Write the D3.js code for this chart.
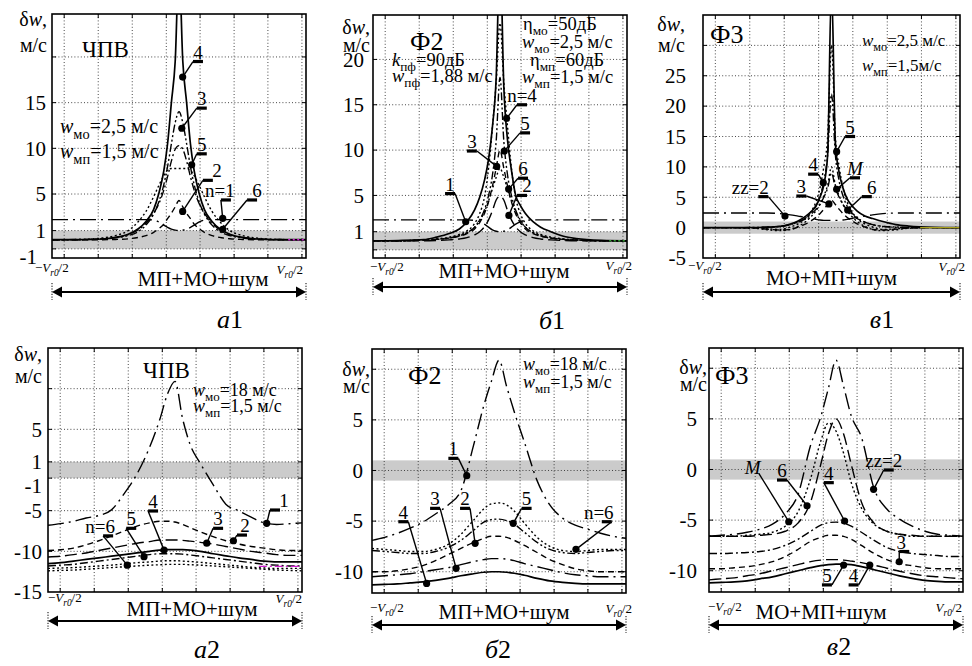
<!DOCTYPE html>
<html>
<head>
<meta charset="utf-8">
<script src="https://cdn.jsdelivr.net/npm/d3@7"></script>
<style>
body { margin: 0; background: #fff; }
svg text { font-family: "Liberation Serif", "DejaVu Serif", serif; fill: #000; }
</style>
</head>
<body>
<div id="app"></div>
<script>
// x in units of Vr0 (-1/2 .. 1/2)
var xsTop = [-0.5,-0.4,-0.3,-0.25,-0.2,-0.16,-0.13,-0.1,-0.08,-0.06,-0.045,-0.03,-0.015,0,0.015,0.03,0.045,0.06,0.08,0.1,0.13,0.16,0.2,0.25,0.3,0.4,0.5];
var xsBot = [-0.5,-0.45,-0.4,-0.35,-0.3,-0.25,-0.2,-0.15,-0.1,-0.06,-0.03,0,0.03,0.06,0.1,0.15,0.2,0.25,0.3,0.35,0.4,0.45,0.5];
var gridX = [-0.452,-0.318,-0.184,-0.05,0.083,0.217,0.35,0.484];
var tailXs = [0.43, 0.5];

// а1  (ЧПВ, wмо = 2,5 м/с)
var a1N1 = [2.2,2.2,2.2,2.2,2.2,2.2,2.2,2.15,1.95,1.6,1.35,1.15,1.05,1.0,1.05,1.15,1.35,1.6,1.95,2.15,2.2,2.2,2.2,2.2,2.2,2.2,2.2];
var a1N2 = [0,0,0,0.03,0.1,0.25,0.45,0.8,1.2,1.7,2.3,2.9,3.6,4.3,3.6,2.9,2.3,1.7,1.2,0.8,0.45,0.25,0.1,0.03,0,0,0];
var a1N3 = [0,0,0.08,0.2,0.45,0.9,1.6,2.8,4.1,6.0,8.0,10.5,12.8,14,12.8,10.5,8.0,6.0,4.1,2.8,1.6,0.9,0.45,0.2,0.08,0,0];
var a1N4 = [0,0,0.08,0.25,0.6,1.2,2.0,3.3,5.0,7.5,10.5,15,19.5,30,19.5,15,10.5,7.5,5.0,3.3,2.0,1.2,0.6,0.25,0.08,0,0];
var a1N5 = [0,0.02,0.2,0.45,1.0,2.0,3.1,4.7,5.9,7.0,7.6,7.8,7.8,7.8,7.8,7.8,7.6,7.0,5.9,4.7,3.1,2.0,1.0,0.45,0.2,0.02,0];
var a1N6 = [0,0.02,0.1,0.25,0.55,1.1,1.8,2.9,3.9,5.4,6.9,8.6,9.9,10.3,9.9,8.6,6.9,5.4,3.9,2.9,1.8,1.1,0.55,0.25,0.1,0.02,0];
var a1Tail = [0, 0];

// б1  (Ф2, wмо = 2,5 м/с)
var b1N1 = [0,0.03,0.12,0.4,0.8,1.3,2.1,3.4,4.8,6.8,9.0,12.5,18,32,17,11,7.8,5.2,3.9,3.0,2.1,1.5,1.0,0.5,0.25,0.05,0];
var b1Lvl = [2.3,2.3,2.3,2.3,2.3,2.3,2.3,2.25,2.1,1.8,1.5,1.2,1.05,1.0,1.05,1.2,1.5,1.8,2.1,2.25,2.3,2.3,2.3,2.3,2.3,2.3,2.3];
var b1N2 = [0,0,0,0.03,0.1,0.2,0.35,0.65,1.0,1.6,2.3,3.3,4.5,4.9,4.5,3.3,2.3,1.6,1.0,0.65,0.35,0.2,0.1,0.03,0,0,0];
var b1N3 = [0,0,0.08,0.15,0.3,0.5,0.8,1.3,2.0,3.1,4.3,6.0,8.0,10,8.0,6.0,4.3,3.1,2.0,1.3,0.8,0.5,0.3,0.15,0.08,0,0];
var b1N4 = [0,0,0.1,0.2,0.4,0.7,1.1,1.9,3.0,5.0,8.0,12.5,17.5,24,17.5,12.5,8.0,5.0,3.0,1.9,1.1,0.7,0.4,0.2,0.1,0,0];
var b1N5 = [0,0,0.08,0.15,0.3,0.55,0.9,1.5,2.3,3.5,5.0,7.2,11,18,11,7.2,5.0,3.5,2.3,1.5,0.9,0.55,0.3,0.15,0.08,0,0];
var b1N6 = [0,0,0.08,0.15,0.3,0.55,0.9,1.5,2.2,3.3,4.4,5.7,7.0,8.0,7.0,5.7,4.4,3.3,2.2,1.5,0.9,0.55,0.3,0.15,0.08,0,0];
var b1Tail = [0, 0];

// в1  (Ф3, wмо = 2,5 м/с)
var v1N4 = [0,0,0.02,0.05,0.2,0.6,1.1,1.9,2.6,3.6,5.0,7.0,12,40,14,9.0,6.5,4.8,3.6,2.7,1.9,1.5,1.0,0.5,0.25,0.05,0];
var v1N5 = [0,0,-0.05,-0.2,-0.3,0.1,0.6,1.5,2.6,4.3,6.5,10,15,30,15,10,6.5,4.3,2.6,1.5,0.6,0.1,-0.3,-0.2,-0.05,0,0];
var v1N7 = [0,0,0.02,0.1,0.2,0.5,0.9,1.6,2.4,3.6,5.2,7.6,12,22,12,7.6,5.2,3.6,2.4,1.6,0.9,0.5,0.2,0.1,0.02,0,0];
var v1M  = [0,0,-0.1,-0.35,-0.5,-0.3,0.2,1.0,1.8,2.8,3.8,5.2,7.0,10,7.0,5.2,3.8,2.8,1.8,1.0,0.2,-0.3,-0.5,-0.35,-0.1,0,0];
var v1N3 = [0,0,-0.05,-0.25,-0.4,-0.3,0.1,0.6,1.1,1.7,2.3,3.0,3.8,4.5,3.8,3.0,2.3,1.7,1.1,0.6,0.1,-0.3,-0.4,-0.25,-0.05,0,0];
var v1N6 = [0,0,0,0.05,0.2,0.5,0.9,1.5,2.2,3.0,3.8,5.0,6.5,9,6.5,5.0,3.8,3.0,2.2,1.5,0.9,0.5,0.2,0.05,0,0,0];
var v1Zz = [2.4,2.4,2.4,2.4,2.3,2.1,1.9,1.7,1.5,1.35,1.25,1.2,1.2,1.2,1.2,1.2,1.25,1.35,1.5,1.7,1.9,2.1,2.3,2.4,2.4,2.4,2.4];
var v1Tail = [0, 0];

// а2  (ЧПВ, wмо = 18 м/с)
var a2N1 = [-6.8,-6.6,-6.3,-5.9,-5.6,-4.9,-2.9,-0.5,2.8,6.2,9.3,10.9,6.3,3.1,0.8,-1.8,-4.2,-5.0,-5.8,-6.5,-6.7,-6.6,-6.5];
var a2N2 = [-9.9,-9.8,-9.6,-9.2,-8.7,-8.1,-7.5,-6.9,-6.5,-6.3,-6.3,-6.4,-6.7,-7.1,-7.6,-8.2,-8.7,-9.1,-9.4,-9.6,-9.8,-9.9,-9.9];
var a2N3 = [-10.7,-10.6,-10.4,-10.2,-9.9,-9.6,-9.3,-9.0,-8.8,-8.6,-8.6,-8.6,-8.65,-8.75,-8.9,-9.1,-9.4,-9.7,-10.0,-10.2,-10.4,-10.5,-10.5];
var a2N4 = [-11.5,-11.4,-11.2,-11.0,-10.8,-10.6,-10.4,-10.2,-10.0,-9.85,-9.8,-9.8,-9.8,-9.85,-10.0,-10.3,-10.55,-10.8,-11.0,-11.2,-11.3,-11.3,-11.3];
var a2N5 = [-11.8,-11.7,-11.6,-11.4,-11.2,-11.0,-10.8,-10.6,-10.4,-10.3,-10.3,-10.3,-10.35,-10.45,-10.6,-10.8,-11.0,-11.2,-11.4,-11.6,-11.7,-11.8,-11.8];
var a2N6 = [-12.1,-12.05,-12.0,-11.9,-11.8,-11.7,-11.55,-11.4,-11.3,-11.2,-11.15,-11.15,-11.2,-11.25,-11.35,-11.5,-11.65,-11.8,-11.95,-12.05,-12.1,-12.1,-12.1];
var a2Low = [-12.4,-12.35,-12.3,-12.2,-12.1,-12.0,-11.9,-11.8,-11.7,-11.65,-11.6,-11.6,-11.6,-11.65,-11.7,-11.8,-11.9,-12.0,-12.1,-12.2,-12.3,-12.35,-12.4];
var a2TailXs = [0.33, 0.5];
var a2Tail = [-11.85, -11.85];

// б2  (Ф2, wмо = 18 м/с)
var b2N1 = [-6.9,-6.6,-6.2,-5.7,-5.1,-4.3,-3.4,-2.0,2.5,6.4,8.8,10.9,8.3,5.8,2.8,-1.0,-3.4,-4.7,-5.4,-5.8,-6.2,-6.5,-6.7];
var b2N2 = [-10.0,-10.0,-9.9,-9.7,-9.4,-8.9,-8.3,-7.7,-7.1,-6.7,-6.5,-6.5,-6.6,-6.9,-7.4,-8.1,-8.8,-9.3,-9.7,-9.9,-10.0,-10.0,-10.0];
var b2N3 = [-10.5,-10.4,-10.3,-10.2,-10.0,-9.8,-9.6,-9.3,-9.0,-8.8,-8.7,-8.7,-8.75,-8.9,-9.2,-9.5,-9.8,-10.1,-10.3,-10.4,-10.5,-10.5,-10.5];
var b2N4 = [-11.3,-11.25,-11.2,-11.1,-11.0,-10.85,-10.65,-10.4,-10.2,-10.05,-10.0,-10.0,-10.05,-10.15,-10.35,-10.65,-10.9,-11.05,-11.15,-11.2,-11.2,-11.2,-11.2];
var b2N5 = [-7.9,-8.0,-8.1,-8.2,-8.2,-8.0,-7.6,-6.9,-5.9,-5.1,-4.85,-4.8,-4.95,-5.3,-6.1,-7.1,-7.8,-8.1,-8.2,-8.1,-8.0,-7.9,-7.9];
var b2N6 = [-7.7,-7.8,-7.9,-8.0,-8.0,-7.8,-7.3,-6.3,-4.9,-3.8,-3.3,-3.2,-3.4,-4.0,-5.2,-6.6,-7.5,-7.9,-8.0,-7.9,-7.8,-7.8,-7.8];

// в2  (Ф3, wмо = 18 м/с)
var v2Zz = [-6.6,-6.5,-6.4,-6.2,-5.9,-5.4,-4.4,-2.5,2.4,5.2,8.0,10.8,8.2,5.3,3.2,-1.9,-3.9,-4.9,-5.6,-6.1,-6.4,-6.5,-6.6];
var v2M  = [-6.6,-6.6,-6.6,-6.5,-6.4,-6.2,-5.6,-4.2,-0.9,2.8,4.6,3.8,1.6,-1.3,-3.8,-5.4,-6.1,-6.4,-6.6,-6.6,-6.6,-6.6,-6.6];
var v2N6 = [-6.6,-6.6,-6.6,-6.6,-6.5,-6.4,-6.1,-5.3,-3.2,0.5,3.5,5.0,3.5,0.5,-3.2,-5.3,-6.1,-6.4,-6.5,-6.6,-6.6,-6.6,-6.6];
var v2N4u = [-8.3,-8.3,-8.25,-8.2,-8.1,-7.9,-7.5,-6.9,-6.1,-5.5,-5.25,-5.2,-5.3,-5.6,-6.2,-7.0,-7.7,-8.1,-8.3,-8.4,-8.5,-8.6,-8.6];
var v2N3 = [-9.8,-9.8,-9.7,-9.6,-9.4,-9.1,-8.6,-7.9,-7.1,-6.7,-6.5,-6.5,-6.6,-6.9,-7.5,-8.3,-8.9,-9.3,-9.5,-9.7,-9.8,-9.8,-9.8];
var v2N4l = [-10.9,-10.8,-10.7,-10.5,-10.3,-10.0,-9.7,-9.4,-9.1,-8.95,-8.9,-8.9,-8.95,-9.05,-9.2,-9.45,-9.75,-10.05,-10.3,-10.5,-10.6,-10.7,-10.8];
var v2N5 = [-11.2,-11.15,-11.1,-11.0,-10.8,-10.6,-10.3,-10.0,-9.7,-9.5,-9.4,-9.35,-9.35,-9.4,-9.6,-9.9,-10.2,-10.5,-10.75,-10.95,-11.05,-11.1,-11.1];

// axis values
var gridYa1 = [20,15,10,5,1,-1], tickYa1 = [15,10,5,1,-1];
var gridYb1 = [20,15,10,5,1,-1], tickYb1 = [20,15,10,5,1];
var gridYv1 = [30,25,20,15,10,5,0], tickYv1 = [25,20,15,10,5,0,-5];
var gridYa2 = [10,5,1,-1,-5,-10], tickYa2 = [5,1,-1,-5,-10,-15];
var gridYb2 = [10,5,0,-5,-10], tickYb2 = [5,0,-5,-10];
var gridYv2 = [10,5,0,-5,-10], tickYv2 = [5,0,-5,-10];

var DASH = { solid: null, dash: "6,4", ldash: "12,5", dot: "2,2.5", dd: "8,3,2,3", ddd: "8,2.5,2,2.5,2,2.5", ldd: "16,5,2,5" };

function W(sub, rest) { return [["w", "i"], [sub, "s"], [rest]]; }

var panels = [
  { box: [52, 306, 14, 258], ydom: [-2, 24.7], xs: xsTop, gridY: gridYa1, tickY: tickYa1, tickDx: 6, negDx: -9, ylab: [5, 12, 38],
    series: [
      { ys: a1N1, d: "ldd" }, { ys: a1N2, d: "dash" }, { ys: a1N5, d: "dot" }, { ys: a1N6, d: "dd" },
      { ys: a1N3, d: "ddd" }, { ys: a1N4, d: "solid", w: 1.7 }, { ys: a1Tail, xs: tailXs, d: "dot", c: "#d21ed2" }
    ],
    notes: [
      { t: "4", x: 0.0144, y: 17.8, lx: 0.055, ly: 19.5, side: 1 },
      { t: "3", x: 0.011, y: 12.2, lx: 0.07, ly: 14.4, side: 1 },
      { t: "5", x: 0.05, y: 8.2, lx: 0.07, ly: 9.4, side: 1 },
      { t: "2", x: 0.0144, y: 3.1, lx: 0.094, ly: 6.5, side: 1, tdx: 9 },
      { t: "n=1", x: 0.172, y: 2.34, lx: 0.165, ly: 4.35, side: 1, tdx: -6 },
      { t: "6", x: 0.172, y: 1.14, lx: 0.268, ly: 4.35, side: 1, tdx: 5 }
    ],
    texts: [
      { dx: 30, dy: 43, size: 23, parts: [["ЧПВ"]] },
      { dx: 8, dy: 119, size: 20, parts: W("мо", "=2,5 м/с") },
      { dx: 8, dy: 144, size: 20, parts: W("мп", "=1,5 м/с") }
    ],
    cap: "МП+МО+шум", capDx: 24, capDy: 28, arrDy: 34, lab: "а", num: "1", labX: 230, labY: 328,
    vl: [-17, 14], vr: [-3, 16] },

  { box: [373, 627, 15, 258], ydom: [-1.9, 24.9], xs: xsTop, gridY: gridYb1, tickY: tickYb1, tickDx: 9, ylab: [3, 19, 37],
    series: [
      { ys: b1Lvl, d: "ldd" }, { ys: b1N2, d: "ldash" }, { ys: b1N6, d: "dot" }, { ys: b1N3, d: "dash" },
      { ys: b1N5, d: "ddd" }, { ys: b1N4, d: "dot" }, { ys: b1N1, d: "solid", w: 1.7 },
      { ys: b1Tail, xs: tailXs, d: "dot", c: "#2e9a2e" }
    ],
    notes: [
      { t: "n=4", x: 0.026, y: 13.5, lx: 0.067, ly: 15.0, side: 1 },
      { t: "5", x: 0.017, y: 9.9, lx: 0.079, ly: 11.9, side: 1 },
      { t: "3", x: -0.013, y: 8.2, lx: -0.091, ly: 9.9, side: -1 },
      { t: "6", x: 0.034, y: 5.7, lx: 0.071, ly: 6.9, side: 1 },
      { t: "2", x: 0.035, y: 2.8, lx: 0.067, ly: 5.0, side: 1, tdx: 5 },
      { t: "1", x: -0.135, y: 2.1, lx: -0.177, ly: 5.2, side: -1 }
    ],
    texts: [
      { dx: 37, dy: 35, size: 26, parts: [["Ф2"]] },
      { dx: 19, dy: 51, size: 18.5, parts: [["k", "i"], ["пф", "s"], ["=90дБ"]] },
      { dx: 19, dy: 67, size: 18.5, parts: W("пф", "=1,88 м/с") },
      { dx: 150, dy: 15, size: 18.5, parts: [["η"], ["мо", "s"], ["=50дБ"]] },
      { dx: 149, dy: 33, size: 18.5, parts: W("мо", "=2,5 м/с") },
      { dx: 157, dy: 51, size: 18.5, parts: [["η"], ["мп", "s"], ["=60дБ"]] },
      { dx: 149, dy: 68, size: 18.5, parts: W("мп", "=1,5 м/с") }
    ],
    cap: "МП+МО+шум", capDx: 4, capDy: 20, arrDy: 29, lab: "б", num: "1", labX: 552, labY: 329,
    vl: [-3, 13], vr: [5, 12] },

  { box: [703, 960, 15, 258], ydom: [-5, 35], xs: xsTop, gridY: gridYv1, tickY: tickYv1, tickDx: 17, ylab: [18, 16, 37],
    series: [
      { ys: v1Zz, d: "ldd" }, { ys: v1N3, d: "dash" }, { ys: v1M, d: "dot" }, { ys: v1N6, d: "dd" },
      { ys: v1N7, d: "ddd" }, { ys: v1N5, d: "dot" }, { ys: v1N4, d: "solid", w: 1.7 },
      { ys: v1Tail, xs: [0.345, 0.5], d: "solid", c: "#a8a020" }
    ],
    notes: [
      { t: "5", x: 0.02, y: 12.5, lx: 0.053, ly: 15.0, side: 1 },
      { t: "4", x: -0.032, y: 7.4, lx: -0.052, ly: 8.8, side: -1 },
      { t: "M", x: 0.02, y: 6.3, lx: 0.072, ly: 8.2, side: 1, it: true },
      { t: "3", x: -0.01, y: 3.9, lx: -0.098, ly: 5.2, side: -1 },
      { t: "6", x: 0.063, y: 2.9, lx: 0.118, ly: 5.1, side: 1, tdx: 5 },
      { t: "zz=2", x: -0.181, y: 1.9, lx: -0.246, ly: 5.1, side: -1, tdx: -13 }
    ],
    texts: [
      { dx: 7, dy: 28, size: 26, parts: [["Ф3"]] },
      { dx: 159, dy: 31, size: 17, parts: W("мо", "=2,5 м/с") },
      { dx: 159, dy: 56, size: 17, parts: W("мп", "=1,5м/с") }
    ],
    cap: "МО+МП+шум", capDx: 0, capDy: 27, arrDy: 34, lab: "в", num: "1", labX: 882, labY: 328,
    vl: [-15, 12], vr: [5, 13] },

  { box: [48, 302, 348, 592], ydom: [-15, 15], xs: xsBot, gridY: gridYa2, tickY: tickYa2, tickDx: 6, negDx: 0, ylab: [6, 13, 35],
    series: [
      { ys: a2N1, d: "ldd" }, { ys: a2N2, d: "dash" }, { ys: a2N3, d: "ldash" }, { ys: a2Low, d: "dot" },
      { ys: a2N6, d: "dot" }, { ys: a2N5, d: "dd" }, { ys: a2N4, d: "solid", w: 1.7 },
      { ys: a2Tail, xs: a2TailXs, d: "dd", c: "#d21ed2" }
    ],
    notes: [
      { t: "1", x: 0.361, y: -6.56, lx: 0.374, ly: -4.92, side: 1, tdx: 9 },
      { t: "2", x: 0.23, y: -8.7, lx: 0.244, ly: -8.0, side: 1, tdx: 3 },
      { t: "3", x: 0.125, y: -9.0, lx: 0.15, ly: -7.17, side: 1 },
      { t: "4", x: -0.043, y: -9.85, lx: -0.106, ly: -5.04, side: 1 },
      { t: "5", x: -0.122, y: -10.66, lx: -0.192, ly: -7.17, side: 1 },
      { t: "n=6", x: -0.188, y: -11.7, lx: -0.283, ly: -8.1, side: 1, tdx: -8 }
    ],
    texts: [
      { dx: 95, dy: 30, size: 23, parts: [["ЧПВ"]] },
      { dx: 145, dy: 48, size: 18, parts: W("мо", "=18 м/с") },
      { dx: 145, dy: 64, size: 18, parts: W("мп", "=1,5 м/с") }
    ],
    cap: "МП+МО+шум", capDx: 17, capDy: 24, arrDy: 29, lab: "а", num: "2", labX: 207, labY: 658,
    vl: [0, 10], vr: [0, 11] },

  { box: [372, 626, 349, 593], ydom: [-12.1, 12], xs: xsBot, gridY: gridYb2, tickY: tickYb2, tickDx: 9, ylab: [2, 27, 44],
    series: [
      { ys: b2N1, d: "ldd" }, { ys: b2N6, d: "dot" }, { ys: b2N5, d: "ddd" }, { ys: b2N2, d: "dash" },
      { ys: b2N3, d: "ldd" }, { ys: b2N4, d: "solid", w: 1.7 }
    ],
    notes: [
      { t: "1", x: -0.127, y: -0.51, lx: -0.16, ly: 1.2, side: -1 },
      { t: "4", x: -0.285, y: -11.15, lx: -0.357, ly: -5.06, side: -1 },
      { t: "3", x: -0.169, y: -9.66, lx: -0.232, ly: -3.74, side: -1 },
      { t: "2", x: -0.094, y: -7.19, lx: -0.114, ly: -3.74, side: -1 },
      { t: "5", x: 0.056, y: -5.22, lx: 0.089, ly: -3.74, side: 1 },
      { t: "n=6", x: 0.303, y: -7.79, lx: 0.444, ly: -5.06, side: -1, tdx: -8 }
    ],
    texts: [
      { dx: 36, dy: 35, size: 26, parts: [["Ф2"]] },
      { dx: 151, dy: 21, size: 18, parts: W("мо", "=18 м/с") },
      { dx: 151, dy: 39, size: 18, parts: W("мп", "=1,5 м/с") }
    ],
    cap: "МП+МО+шум", capDx: 5, capDy: 26, arrDy: 32, lab: "б", num: "2", labX: 498, labY: 658,
    vl: [-2, 19], vr: [6, 20] },

  { box: [709, 963, 348, 592], ydom: [-12.1, 12], xs: xsBot, gridY: gridYv2, tickY: tickYv2, tickDx: 12, ylab: [2, 26, 43],
    series: [
      { ys: v2Zz, d: "ldd" }, { ys: v2N6, d: "ldash" }, { ys: v2M, d: "dot" }, { ys: v2N4u, d: "dd" },
      { ys: v2N3, d: "dash" }, { ys: v2N4l, d: "ldash" }, { ys: v2N5, d: "solid", w: 1.7 }
    ],
    notes: [
      { t: "M", x: -0.186, y: -5.16, lx: -0.304, ly: -0.38, side: 0, it: true, tdx: -6, tdy: 4 },
      { t: "6", x: -0.114, y: -3.58, lx: -0.193, ly: -1.04, side: -1 },
      { t: "4", x: 0.034, y: -5.09, lx: -0.048, ly: -1.3, side: 1 },
      { t: "zz=2", x: 0.148, y: -1.96, lx: 0.188, ly: -0.05, side: 1, tdx: -5 },
      { t: "3", x: 0.249, y: -9.11, lx: 0.249, ly: -8.1, side: 1, tdx: -3 },
      { t: "5", x: 0.03, y: -9.44, lx: -0.016, ly: -11.4, side: -1 },
      { t: "4", x: 0.133, y: -9.44, lx: 0.089, ly: -11.4, side: -1 }
    ],
    texts: [
      { dx: 6, dy: 36, size: 26, parts: [["Ф3"]] }
    ],
    cap: "МО+МП+шум", capDx: -15, capDy: 27, arrDy: 33, lab: "в", num: "2", labX: 839, labY: 655,
    vl: [-1, 19], vr: [-1, 20] }
];

var svg = d3.select("#app").append("svg").attr("width", 972).attr("height", 666)
  .attr("font-family", "Liberation Serif, DejaVu Serif, serif");

function rich(g, x, y, parts, size, anchor) {
  var t = g.append("text").attr("x", x).attr("y", y).attr("font-size", size)
           .attr("text-anchor", anchor || "start");
  var shift = 0;
  parts.forEach(function(p) {
    var st = p[1] || "";
    var s = t.append("tspan").text(p[0]);
    var target = st.indexOf("s") >= 0 ? size * 0.28 : 0;
    if (target !== shift) { s.attr("dy", target - shift); shift = target; }
    if (st.indexOf("s") >= 0) s.attr("font-size", size * 0.72);
    if (st.indexOf("i") >= 0) s.attr("font-style", "italic");
  });
  return t;
}

panels.forEach(function(p, i) {
  var x0 = p.box[0], x1 = p.box[1], y0 = p.box[2], y1 = p.box[3];
  var x = d3.scaleLinear().domain([-0.5, 0.5]).range([x0, x1]);
  var y = d3.scaleLinear().domain(p.ydom).range([y1, y0]);
  var g = svg.append("g");

  g.append("clipPath").attr("id", "clip" + i).append("rect")
    .attr("x", x0).attr("y", y0).attr("width", x1 - x0).attr("height", y1 - y0);

  // gray ±1 band
  g.append("rect").attr("x", x0).attr("y", y(1)).attr("width", x1 - x0)
    .attr("height", y(-1) - y(1)).attr("fill", "#cbcbcb");

  // dotted grid
  g.selectAll(".gx").data(gridX).enter().append("line")
    .attr("x1", function(d) { return x(d); }).attr("x2", function(d) { return x(d); })
    .attr("y1", y0).attr("y2", y1)
    .attr("stroke", "#333").attr("stroke-width", 0.9).attr("stroke-dasharray", "1,2.2");
  g.selectAll(".gy").data(p.gridY).enter().append("line")
    .attr("x1", x0).attr("x2", x1)
    .attr("y1", function(d) { return y(d); }).attr("y2", function(d) { return y(d); })
    .attr("stroke", "#333").attr("stroke-width", 0.9).attr("stroke-dasharray", "1,2.2");

  // inner ticks
  gridX.forEach(function(d) {
    g.append("line").attr("x1", x(d)).attr("x2", x(d)).attr("y1", y1).attr("y2", y1 - 4).attr("stroke", "#000");
    g.append("line").attr("x1", x(d)).attr("x2", x(d)).attr("y1", y0).attr("y2", y0 + 4).attr("stroke", "#000");
  });
  p.gridY.forEach(function(d) {
    g.append("line").attr("x1", x0).attr("x2", x0 + 4).attr("y1", y(d)).attr("y2", y(d)).attr("stroke", "#000");
    g.append("line").attr("x1", x1).attr("x2", x1 - 4).attr("y1", y(d)).attr("y2", y(d)).attr("stroke", "#000");
  });

  // curves
  var cg = g.append("g").attr("clip-path", "url(#clip" + i + ")");
  p.series.forEach(function(s) {
    var xs = s.xs || p.xs;
    var pts = s.ys.map(function(v, k) { return [xs[k], v]; });
    var line = d3.line().x(function(d) { return x(d[0]); }).y(function(d) { return y(d[1]); })
                 .curve(d3.curveMonotoneX);
    cg.append("path").attr("d", line(pts)).attr("fill", "none")
      .attr("stroke", s.c || "#000").attr("stroke-width", s.w || 1.4)
      .attr("stroke-dasharray", DASH[s.d]);
  });

  // frame
  g.append("rect").attr("x", x0).attr("y", y0).attr("width", x1 - x0).attr("height", y1 - y0)
    .attr("fill", "none").attr("stroke", "#000").attr("stroke-width", 1.6);

  // y tick labels ("-1" sits a little lower, as in the source)
  p.tickY.forEach(function(d) {
    var neg = d === -1;
    g.append("text").attr("x", x0 - p.tickDx + (neg ? (p.negDx || 0) : 0)).attr("y", y(d) + (neg ? 8 : 0))
      .attr("dy", "0.35em").attr("text-anchor", "end").attr("font-size", 21).text(String(d));
  });

  // y axis title
  rich(g, x0 - p.ylab[0], y0 + p.ylab[1], [["δ"], ["w", "i"], [","]], 20, "end");
  rich(g, x0 - p.ylab[0], y0 + p.ylab[2], [["м/с"]], 20, "end");

  // texts inside
  p.texts.forEach(function(t) { rich(g, x0 + t.dx, y0 + t.dy, t.parts, t.size); });

  // callouts
  p.notes.forEach(function(n) {
    var px = x(n.x), py = y(n.y), lx = x(n.lx), ly = y(n.ly);
    g.append("line").attr("x1", lx).attr("y1", ly).attr("x2", px).attr("y2", py)
      .attr("stroke", "#000").attr("stroke-width", 1.4);
    if (n.side) {
      g.append("line").attr("x1", lx).attr("y1", ly).attr("x2", lx + n.side * 10).attr("y2", ly)
        .attr("stroke", "#000").attr("stroke-width", 3.2);
    }
    g.append("circle").attr("cx", px).attr("cy", py).attr("r", 3.6).attr("fill", "#000");
    g.append("text").attr("x", lx + n.side * 5 + (n.tdx || 0)).attr("y", ly - 3 + (n.tdy || 0))
      .attr("text-anchor", "middle").attr("font-size", 19)
      .attr("font-style", n.it ? "italic" : null).text(n.t);
  });

  // -Vr0/2 and Vr0/2
  rich(g, x0 + p.vl[0], y1 + p.vl[1], [["−"], ["V", "i"], ["r0", "si"], ["/2"]], 13, "start");
  rich(g, x1 + p.vr[0], y1 + p.vr[1], [["V", "i"], ["r0", "si"], ["/2"]], 13, "end");

  // caption and arrow
  g.append("text").attr("x", (x0 + x1) / 2 + p.capDx).attr("y", y1 + p.capDy)
    .attr("text-anchor", "middle").attr("font-size", 21).text(p.cap);
  var ay = y1 + p.arrDy;
  g.append("line").attr("x1", x0 + 6).attr("x2", x1 - 6).attr("y1", ay).attr("y2", ay)
    .attr("stroke", "#000").attr("stroke-width", 2);
  g.append("path").attr("d", "M" + x0 + "," + ay + "l10,-5.5v11z").attr("fill", "#000");
  g.append("path").attr("d", "M" + x1 + "," + ay + "l-10,-5.5v11z").attr("fill", "#000");
  [x0, x1].forEach(function(ex) {
    g.append("line").attr("x1", ex).attr("x2", ex).attr("y1", ay - 9).attr("y2", ay + 8)
      .attr("stroke", "#000").attr("stroke-width", 1).attr("stroke-dasharray", "1.2,1.5");
  });

  // panel label
  var lt = g.append("text").attr("x", p.labX).attr("y", p.labY).attr("text-anchor", "middle").attr("font-size", 26);
  lt.append("tspan").attr("font-style", "italic").text(p.lab);
  lt.append("tspan").text(p.num);
});
</script>
</body>
</html>
